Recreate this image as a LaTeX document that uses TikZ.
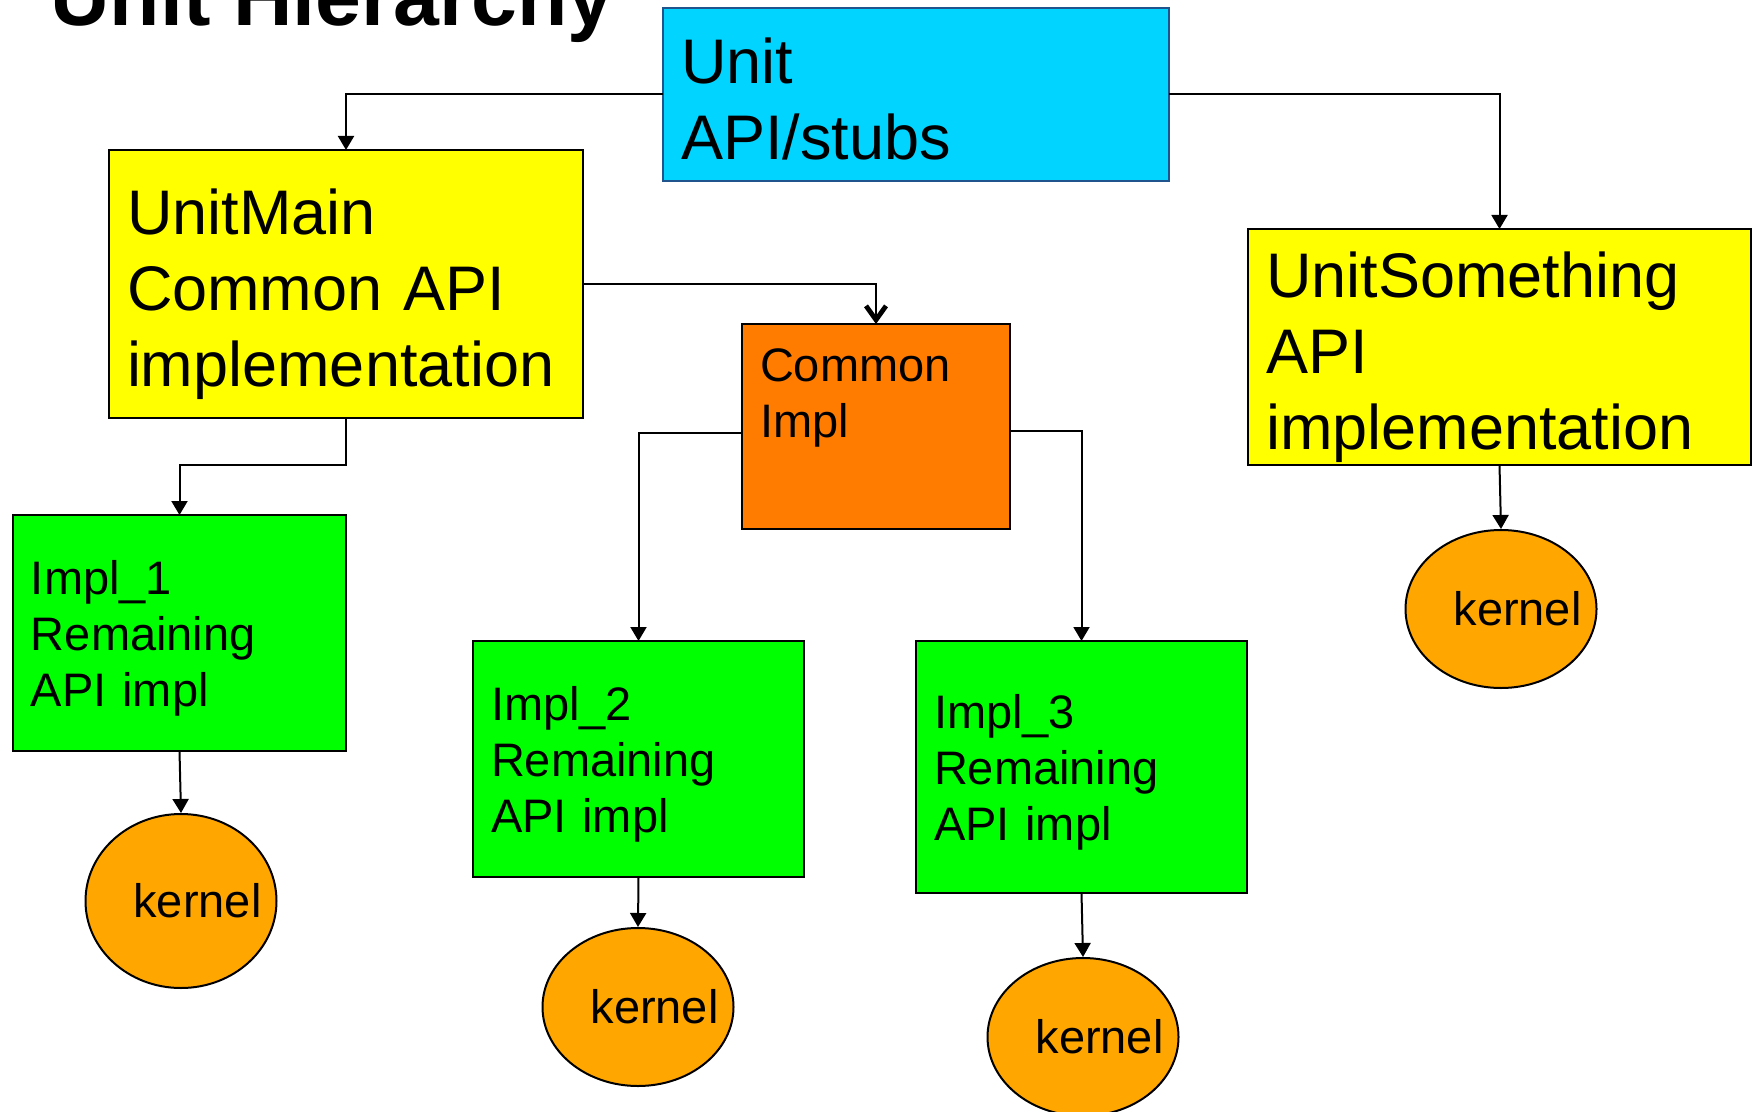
\documentclass[tikz,border=0pt]{standalone}
\usepackage{fontspec}
\setmainfont{Liberation Sans}
\usetikzlibrary{arrows.meta,shapes.geometric}

\def\px{.5pt}
\definecolor{unitc}{RGB}{0,212,255}
\definecolor{unitdraw}{RGB}{31,84,140}
\definecolor{mainc}{RGB}{255,255,0}
\definecolor{commonc}{RGB}{255,124,0}
\definecolor{implc}{RGB}{0,255,0}
\definecolor{kernc}{RGB}{255,166,0}
\def\bigfont{\fontsize{31.5pt}{38pt}\selectfont}
\def\smallfont{\fontsize{23.5pt}{28pt}\selectfont}
\def\kerneltxt{\makebox[0pt]{\hspace{16.5pt}kernel}}

\tikzset{
  blk/.style={draw, rectangle, line width=1pt, anchor=north west, outer sep=0pt,
    inner xsep=9pt, inner ysep=0pt, align=left},
  implblk/.style={blk, fill=implc, text width=147.5pt, minimum height=118pt,
    text depth=55.5pt, font=\smallfont},
  kernnode/.style={draw, ellipse, line width=1pt, fill=kernc, inner sep=0pt,
    minimum width=95.5pt, minimum height=79pt, font=\smallfont},
  arr/.style={line width=1pt, -{Triangle[width=8pt,length=7pt]}},
  vee/.style={line width=1pt, -{Straight Barb[width=10pt,length=7pt,line width=2.4pt]}}
}

\begin{document}
\begin{tikzpicture}[x=\px, y=-\px]
\useasboundingbox (0,0) rectangle (1754,1112);
\node [anchor=base west, inner sep=0pt, font=\fontsize{41.2pt}{48pt}\selectfont\bfseries] (title) at (50,26) {Unit Hierarchy};
% boxes
\node [blk, fill=unitc, draw=unitdraw, text width=235pt, minimum height=86.5pt, text depth=34pt, font=\bigfont] (unit) at (663,8) {Unit\\API/stubs};
\node [blk, fill=mainc, text width=219pt, minimum height=134pt, text depth=72.5pt, font=\bigfont] (main) at (109,150) {UnitMain\\Common API\\implementation};
\node [blk, fill=commonc, text width=116pt, minimum height=102.5pt, text depth=61.5pt, font=\smallfont] (common) at (742,324) {Common\\Impl};
\node [blk, fill=mainc, text width=233.5pt, minimum height=118pt, text depth=72.5pt, font=\bigfont] (something) at (1248,229) {UnitSomething\\API\\implementation};
\node [implblk, text width=148.5pt] (impl1) at (13,515) {Impl\_1\\Remaining\\API impl};
\node [implblk] (impl2) at (473,641) {Impl\_2\\Remaining\\API impl};
\node [implblk, minimum height=126pt] (impl3) at (916,641) {Impl\_3\\Remaining\\API impl};
% kernels
\node [kernnode, minimum height=87pt] (k1) at (181,901) {\kerneltxt};
\node [kernnode] (k2) at (638,1007) {\kerneltxt};
\node [kernnode] (k3) at (1083,1037) {\kerneltxt};
\node [kernnode] (k4) at (1501,609) {\kerneltxt};
% links
\draw [arr] (unit.west) -| (main.north);
\draw [arr] (unit.east) -| (something.north);
\draw [vee] (main.east) -| (common.north);
\draw [arr] (main.south) -- ++(0,47) -| (impl1.north);
\draw [arr] ([yshift=-3pt]common.west) -| (impl2.north);
\draw [arr] ([yshift=-2pt]common.east) -| (impl3.north);
\draw [arr] (impl1.south) -- (k1.north);
\draw [arr] (impl2.south) -- (k2.north);
\draw [arr] (impl3.south) -- (k3.north);
\draw [arr] (something.south) -- (k4.north);
\end{tikzpicture}
\end{document}
